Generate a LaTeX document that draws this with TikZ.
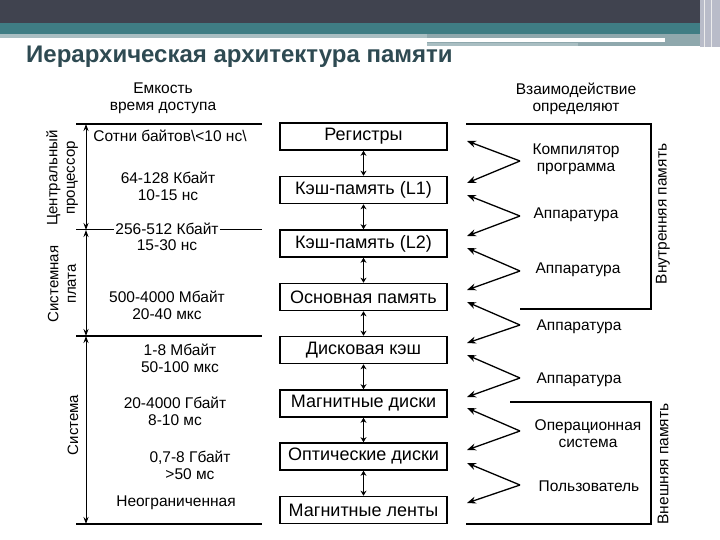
\documentclass[tikz,border=0pt]{standalone}
\usepackage{fontspec}
\setmainfont{Liberation Sans}
\usetikzlibrary{arrows.meta}
\definecolor{topdark}{HTML}{40434F}
\definecolor{tealband}{HTML}{3F7D84}
\definecolor{lightbar}{HTML}{A9BEC2}
\definecolor{graybar}{HTML}{8FA8AD}
\definecolor{sidebar}{HTML}{B9BCC9}
\definecolor{titlecol}{HTML}{2E4A52}
\begin{document}
\begin{tikzpicture}[x=1pt,y=-1pt,
  memstep/.style={draw, line width=1.6pt, minimum width=167pt, minimum height=27pt, inner sep=0pt, font=\fontsize{18}{18}\selectfont},
  lbl/.style={font=\fontsize{15.5}{17}\selectfont, align=center, inner sep=1pt},
  rlbl/.style={font=\fontsize{15}{17.5}\selectfont, align=center, inner sep=1pt, rotate=90},
  dbl/.style={{Stealth[length=5pt,width=6pt]}-{Stealth[length=5pt,width=6pt]}, line width=1.4pt},
  vdbl/.style={{Stealth[length=7pt,width=5pt]}-{Stealth[length=7pt,width=5pt]}, line width=1pt},
  zz/.style={-{Stealth[length=9pt,width=7pt]}, line width=1.3pt},
  hline/.style={line width=1.6pt}
]
\useasboundingbox (0,0) rectangle (720,540);
% header
\fill[topdark] (0,0) rectangle (720,23);
\fill[tealband] (0,23) rectangle (720,34);
\fill[lightbar] (0,34) rectangle (427,38);
\fill[graybar] (427,34) rectangle (700,46);
\fill[white] (427,38) rectangle (665,42);
\fill[lightbar] (427,43) rectangle (578,46);
\fill[sidebar] (700,0) rectangle (720,47);
\draw[white!85!gray, line width=1pt] (704,0) -- (704,47);
\draw[white!85!gray, line width=1pt] (711,0) -- (711,47);
\node[anchor=base west, font=\bfseries\fontsize{24}{24}\selectfont, text=titlecol, inner sep=0pt] (title) at (26,63) {Иерархическая архитектура памяти};

% headers
\node[lbl] (hl) at (163,98) {Емкость\\время доступа};
\node[lbl] (hr) at (576,99) {Взаимодействие\\определяют};

% boxes
\node[memstep] (b1) at (363.5,136.5) {Регистры};
\node[memstep] (b2) at (363.5,190) {Кэш-память (L1)};
\node[memstep] (b3) at (363.5,243.5) {Кэш-память (L2)};
\node[memstep] (b4) at (363.5,297) {Основная память};
\node[memstep] (b5) at (363.5,350) {Дисковая кэш};
\node[memstep] (b6) at (363.5,403.5) {Магнитные диски};
\node[memstep] (b7) at (363.5,456.5) {Оптические диски};
\node[memstep] (b8) at (363.5,510) {Магнитные ленты};
\foreach \a/\b in {b1/b2,b2/b3,b3/b4,b4/b5,b5/b6,b6/b7,b7/b8}
  \draw[dbl] (\a.south) -- (\b.north);

% left column
\coordinate (t1) at (86,124);
\coordinate (t2) at (86,230);
\coordinate (t3) at (86,336);
\coordinate (t4) at (86,524);
\draw[hline] (76,124) -- (262,124);
\draw[hline] (76,336) -- (262,336);
\draw[line width=1.2pt] (76,524) -- (262,524);
\draw[vdbl] (t1) -- (t2);
\draw[vdbl] (t2) -- (t3);
\draw[vdbl] (t3) -- (t4);

\node[lbl] (c1) at (170,136) {Сотни байтов\textbackslash<10 нс\textbackslash};
\node[lbl] (c2) at (168,186.5) {64-128 Кбайт\\10-15 нс};
\node[lbl] (c3a) at (167,229) {256-512 Кбайт};
\node[lbl] (c3b) at (167,245) {15-30 нс};
\draw[line width=1pt] (76,230) -- (c3a.west |- 0,230);
\draw[line width=1pt] (c3a.east |- 0,230) -- (262,230);
\node[lbl] (c4) at (167,305) {500-4000 Мбайт\\20-40 мкс};
\node[lbl] (c5) at (180,358.5) {1-8 Мбайт\\50-100 мкс};
\node[lbl] (c6) at (175,411.5) {20-4000 Гбайт\\8-10 мс};
\node[lbl] (c7) at (190,465) {0,7-8 Гбайт\\>50 мс};
\node[lbl] (c8) at (176,503) {Неограниченная};

\node[rlbl] (g1) at (62,178) {Центральный\\процессор};
\node[rlbl] (g2) at (62,284) {Системная\\плата};
\node[rlbl] (g3) at (73,425) {Система};

% right column
\draw[hline] (466,124) -- (651,124) -- (651,309) -- (520,309);
\draw[hline] (510,402) -- (651,402) -- (651,524) -- (466,524);
\node[lbl, rotate=90] (r1) at (663,214) {Внутренняя память};
\node[lbl, rotate=90] (r2) at (663,464) {Внешняя память};

\node[lbl] (a1) at (576,159.5) {Компилятор\\программа};
\node[lbl] (a2) at (576,215) {Аппаратура};
\node[lbl] (a3) at (578,270) {Аппаратура};
\node[lbl] (a4) at (579,327) {Аппаратура};
\node[lbl] (a5) at (579,380) {Аппаратура};
\node[lbl] (a6) at (588,433.5) {Операционная\\система};
\node[lbl] (a7) at (589,486) {Пользователь};

\foreach \i/\up/\v/\lo in {1/141/161/183, 2/195/216/236, 3/248/271/290, 4/302/325/343, 5/355/378/397, 6/408/431/450, 7/463/485/503}{
  \coordinate (v\i) at (520,\v);
  \coordinate (u\i) at (467,\up);
  \coordinate (l\i) at (467,\lo);
  \draw[zz] (v\i) -- (u\i);
  \draw[zz] (v\i) -- (l\i);
}
\end{tikzpicture}
\end{document}
